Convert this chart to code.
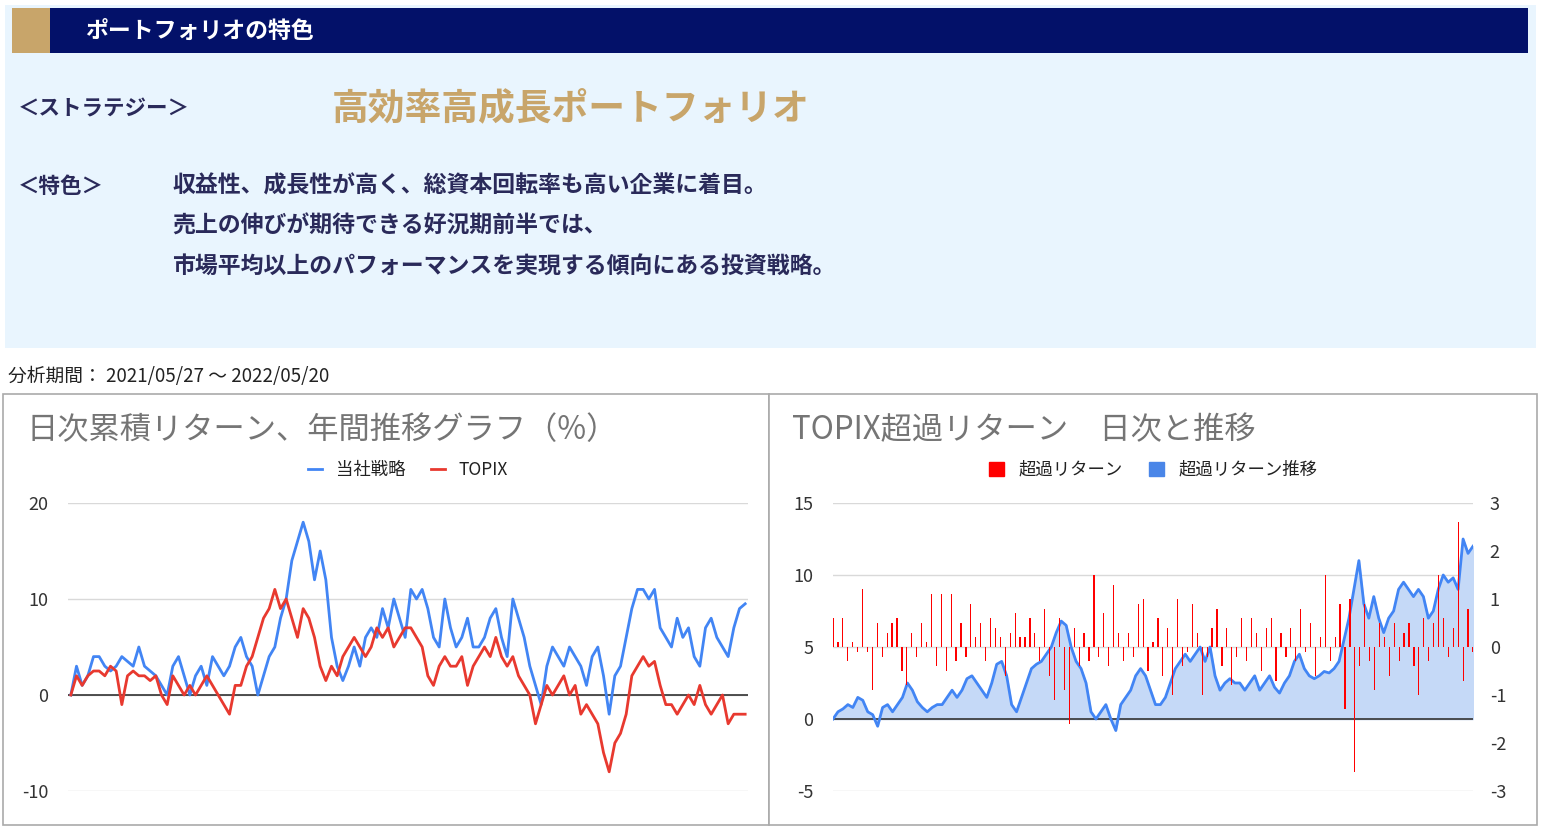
import numpy as np, pandas as pd, seaborn as sns
import matplotlib
matplotlib.use("Agg")
import matplotlib.pyplot as plt
from matplotlib.patches import Rectangle

strategy = [0,3,1,2,4,4,3,2.5,3,4,
 3.5,3,5,3,2.5,2,1,0,3,4,
 2,0,2,3,1,4,3,2,3,5,
 6,4,3,0,2,4,5,8,10,14,
 16,18,16,12,15,12,6,3,1.5,3,
 5,3,6,7,6,9,7,10,8,6,
 11,10,11,9,6,5,10,7,5,6,
 8,5,5,6,8,9,6,4,10,8,
 6,3,1,-1,3,5,4,3,5,4,
 3,1,4,5,2,-2,2,3,6,9,
 11,11,10,11,7,6,5,8,6,7,
 4,3,7,8,6,5,4,7,9,9.5]
topix = [0,2,1,2,2.5,2.5,2,3,2.5,-1,
 2,2.5,2,2,1.5,2,0,-1,2,1,
 0,1,0,1,2,1,0,-1,-2,1,
 1,3,4,6,8,9,11,9,10,8,
 6,9,8,6,3,1.5,3,2,4,5,
 6,5,4,5,7,6,7,5,6,7,
 7,6,5,2,1,3,4,3,3,4,
 1,3,4,5,4,6,4,3,4,2,
 1,0,-3,-1,1,0,1,2,0,1,
 -2,-1,-2,-3,-6,-8,-5,-4,-2,2,
 3,4,3,3.5,1,-1,-1,-2,-1,0,
 -1,1,-1,-2,-1,0,-3,-2,-2,-2]
excess_cum = [0,0.5,0.7,1,0.8,1.5,1.3,0.5,0.3,-0.5,
 0.8,1,0.5,1,1.5,2.5,2,1.2,0.8,0.5,
 0.8,1,1,1.5,2,1.5,2,2.8,3,2.5,
 2,1.5,2.5,3.8,4,3,1,0.5,1.5,2.5,
 3.5,3.8,4,4.5,5,6,6.8,6.5,5,4,
 3.5,2.5,0.5,0,0.5,1,0,-0.8,1,1.5,
 2,3,3.5,3,2,1,1,1.5,2.5,3.5,
 4,4.5,4,4.5,5,4,5,3,2,2.5,
 2.8,2.5,2.5,2,2.5,3,2,2.5,3,2.2,
 1.8,2.5,3,4,4.5,3.5,3,2.8,3,3.3,
 3.2,3.5,4,5.5,7,9,11,8,7,8.5,
 7,6,7,7.5,9,9.5,9,8.5,9,8.5,
 7,7.5,9,10,9.5,9.8,9,12.5,11.5,12]
excess_daily = [0.6,0.1,0.6,-0.3,0.1,-0.1,1.2,-0.1,-0.9,0.5,
 -0.2,0.3,0.5,0.6,-0.5,-0.8,0.3,-0.2,0.5,0.1,
 1.1,-0.4,1.1,-0.5,1.1,-0.3,0.5,-0.2,0.9,0.2,
 0.5,-0.3,0.6,0.4,0.2,-0.6,0.3,0.7,0.2,0.2,
 0.6,0.3,-0.3,0.8,-0.6,-1.1,0.6,-0.9,-1.6,0.4,
 -0.4,0.3,-0.3,1.5,-0.2,0.7,-0.4,1.3,0.3,-0.3,
 0.3,-0.2,0.9,1.0,-0.5,0.1,0.6,-0.6,0.4,-1.0,
 1.0,-0.4,-0.1,0.9,0.3,-1.0,-0.2,0.4,0.8,-0.4,
 0.4,-0.8,-0.2,0.6,-0.3,0.6,0.3,-0.5,0.4,0.6,
 -0.7,0.3,-0.2,0.4,-0.3,0.8,-0.1,0.5,-0.6,0.2,
 1.5,-0.3,0.2,0.9,-1.3,1.0,-2.6,-0.4,0.9,-0.3,
 -0.9,0.5,0.2,-0.6,0.5,-0.3,0.3,0.5,-0.4,-1.0,
 0.6,-0.3,0.5,1.5,0.6,-0.2,0.4,2.6,-0.7,0.8,-0.1]

plt.rcParams['font.family'] = ['Noto Sans CJK JP', 'DejaVu Sans']
plt.rcParams['axes.unicode_minus'] = False
W, H = 1544, 831
fig = plt.figure(figsize=(W/100, H/100), dpi=100)

def box(x0, y0, x1, y1, **kw):
    fig.add_artist(Rectangle((x0/W, 1-y1/H), (x1-x0)/W, (y1-y0)/H, transform=fig.transFigure, zorder=-10, **kw))

box(5, 5, 1536, 348, facecolor='#e9f5fe', edgecolor='none')
box(12, 8, 1528, 53, facecolor='#031169', edgecolor='none')
box(12, 8, 50, 53, facecolor='#c8a56a', edgecolor='none')
def t(x, y, s, **kw):
    fig.text(x/W, 1-y/H, s, va='center', **kw)
t(85, 31, 'ポートフォリオの特色', color='white', fontsize=16.5, fontweight='bold')
t(18, 109, '＜ストラテジー＞', color='#2a2a5a', fontsize=15.5, fontweight='bold')
t(332, 109, '高効率高成長ポートフォリオ', color='#c8a56a', fontsize=26.5, fontweight='bold')
t(18, 186, '＜特色＞', color='#2a2a5a', fontsize=15.5, fontweight='bold')
for i, s in enumerate(['収益性、成長性が高く、総資本回転率も高い企業に着目。',
                       '売上の伸びが期待できる好況期前半では、',
                       '市場平均以上のパフォーマンスを実現する傾向にある投資戦略。']):
    t(172, 186 + 40*i, s, color='#2a2a5a', fontsize=16.5, fontweight='bold')
t(8, 376, '分析期間： 2021/05/27 ～ 2022/05/20', color='#222', fontsize=13.5)
box(3, 394, 769, 825, facecolor='white', edgecolor='#aaaaaa', lw=1.2)
box(769, 394, 1537, 825, facecolor='white', edgecolor='#aaaaaa', lw=1.2)
t(26, 430, '日次累積リターン、年間推移グラフ（%）', color='#757575', fontsize=22.5)
t(792, 430, 'TOPIX超過リターン　日次と推移', color='#757575', fontsize=22.5)

def axes(x0, x1, ytop, ybot):
    return fig.add_axes([x0/W, 1-ybot/H, (x1-x0)/W, (ybot-ytop)/H])

gridc = '#d9d9d9'
# left chart
ax = axes(68, 748, 503, 791)
df = pd.DataFrame({'x': np.arange(len(strategy)), '当社戦略': strategy, 'TOPIX': topix})
sns.lineplot(data=df, x='x', y='当社戦略', ax=ax, color='#4285f4', lw=2, label='当社戦略')
sns.lineplot(data=df, x='x', y='TOPIX', ax=ax, color='#e8392f', lw=2, label='TOPIX')
ax.set_ylim(-10, 20); ax.set_xlim(-0.5, len(strategy)-0.5)
ax.set_yticks([-10, 0, 10, 20])
ax.axhline(0, color='#333', lw=1.2, zorder=1)
ax.legend(loc='lower center', bbox_to_anchor=(0.5, 1.03), ncol=2, frameon=False, fontsize=12.5,
          handlelength=0.8, columnspacing=1.5, labelcolor='#222')

# right chart
ax2 = axes(833, 1473, 503, 791)
xr = np.arange(len(excess_cum))
sns.lineplot(x=xr, y=excess_cum, ax=ax2, color='#4285f4', lw=2, zorder=4)
ax2.fill_between(xr, excess_cum, 0, color='#c5d9f7', zorder=1)
ax2.set_ylim(-5, 15); ax2.set_xlim(0, len(excess_cum)-1)
ax2.set_yticks([-5, 0, 5, 10, 15])
ax2.axhline(0, color='#333', lw=1.2, zorder=2)
ax3 = ax2.twinx()
xb = np.linspace(0, len(excess_cum)-1, len(excess_daily))
ax3.bar(xb, excess_daily, width=0.25, color='#ff0000', zorder=3)
ax3.set_ylim(-3, 3); ax3.set_yticks([-3, -2, -1, 0, 1, 2, 3])
ax3.set_zorder(ax2.get_zorder()+1); ax3.patch.set_visible(False)

for a in (ax, ax2, ax3):
    a.set_xlabel(''); a.set_ylabel(''); a.set_xticks([])
    for s in a.spines.values(): s.set_visible(False)
    a.tick_params(length=0, labelsize=13, labelcolor='#333')
for a in (ax, ax2):
    a.grid(axis='y', color=gridc, lw=1); a.set_axisbelow(True)
    a.tick_params(pad=14)
ax3.tick_params(pad=12)
h1 = Rectangle((0, 0), 1, 1, color='#ff0000'); h2 = Rectangle((0, 0), 1, 1, color='#4a86e8')
ax3.legend([h1, h2], ['超過リターン', '超過リターン推移'], loc='lower center', bbox_to_anchor=(0.5, 1.03),
           ncol=2, frameon=False, fontsize=12.5, handlelength=0.9, handleheight=0.9, columnspacing=1.5, labelcolor='#222')
fig.savefig('out.png', dpi=100)
